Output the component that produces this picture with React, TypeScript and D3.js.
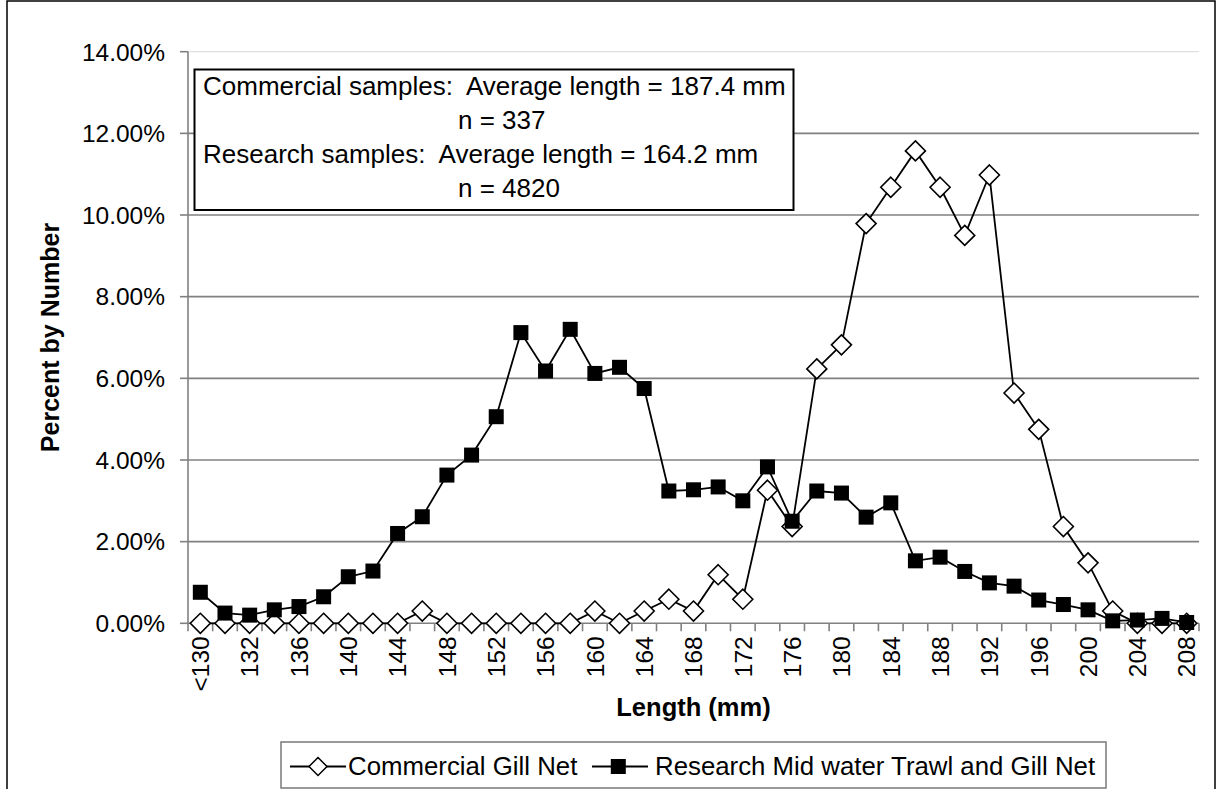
import React from "react";
import * as d3 from "d3";

const categories: string[] = ["<130", "130", "132", "134", "136", "138", "140", "142", "144", "146", "148", "150", "152", "154", "156", "158", "160", "162", "164", "166", "168", "170", "172", "174", "176", "178", "180", "182", "184", "186", "188", "190", "192", "194", "196", "198", "200", "202", "204", "206", "208"];

const commercial: number[] = [0, 0, 0, 0, 0, 0, 0, 0, 0, 0.30, 0, 0, 0, 0, 0, 0, 0.30, 0, 0.30, 0.59, 0.30, 1.19, 0.59, 3.26, 2.37, 6.23, 6.82, 9.79, 10.68, 11.57, 10.68, 9.50, 10.98, 5.64, 4.75, 2.37, 1.48, 0.30, 0, 0, 0];

const research: number[] = [0.76, 0.25, 0.2, 0.33, 0.41, 0.65, 1.14, 1.28, 2.2, 2.61, 3.63, 4.12, 5.06, 7.12, 6.18, 7.2, 6.12, 6.27, 5.75, 3.24, 3.27, 3.34, 3.0, 3.83, 2.5, 3.24, 3.19, 2.6, 2.95, 1.53, 1.62, 1.27, 0.99, 0.91, 0.57, 0.46, 0.33, 0.06, 0.08, 0.12, 0.02];

const yTicks: number[] = [0, 2, 4, 6, 8, 10, 12, 14];
const xLabelCategories: string[] = ["<130", "132", "136", "140", "144", "148", "152", "156", "160", "164", "168", "172", "176", "180", "184", "188", "192", "196", "200", "204", "208"];

const seriesNames: string[] = ["Commercial Gill Net", "Research Mid water Trawl and Gill Net"];
const noteLines: string[] = [
  "Commercial samples:  Average length = 187.4 mm",
  "n = 337",
  "Research samples:  Average length = 164.2 mm",
  "n = 4820",
];

const FONT = "'Liberation Sans', Arial, Helvetica, sans-serif";

export default function App() {
  const W = 1217;
  const H = 789;
  const left = 188, right = 1199, top = 51.7, bottom = 623.3;

  const x = d3.scaleBand<string>().domain(categories).range([left, right]).padding(0);
  const bw = x.bandwidth();
  const cx = (c: string) => (x(c) as number) + bw / 2;
  const y = d3.scaleLinear().domain([0, 14]).range([bottom, top]);

  const line = d3
    .line<number>()
    .x((_, i) => cx(categories[i]))
    .y((d) => y(d));

  const diamond = (px: number, py: number, r = 10) =>
    `M${px},${py - r}L${px + r},${py}L${px},${py + r}L${px - r},${py}Z`;

  const sq = 15;

  return (
    <svg
      width={W}
      height={H}
      style={{ position: "absolute", left: 0, top: 0, background: "#fff", fontFamily: FONT }}
    >
      <rect x={0} y={0} width={W} height={H} fill="#fff" />
      {/* outer chart border */}
      <rect x={7} y={1} width={1208} height={830} fill="none" stroke="#000" strokeWidth={1.5} />

      {/* gridlines */}
      {yTicks.filter((t) => t > 0).map((t) => (
        <line
          key={"g" + t}
          x1={left}
          x2={right}
          y1={y(t)}
          y2={y(t)}
          stroke={t === 14 ? "#d8d8d8" : "#808080"}
          strokeWidth={t === 14 ? 1 : 1.6}
        />
      ))}

      {/* y axis */}
      <line x1={left} x2={left} y1={top} y2={bottom} stroke="#808080" strokeWidth={1.6} />
      {yTicks.map((t) => (
        <g key={"yt" + t}>
          <line x1={left - 8} x2={left} y1={y(t)} y2={y(t)} stroke="#808080" strokeWidth={1.6} />
          <text x={165} y={y(t)} dy="0.36em" textAnchor="end" fontSize={24.5} fill="#000">
            {t.toFixed(2) + "%"}
          </text>
        </g>
      ))}

      {/* x axis */}
      <line x1={left} x2={right} y1={bottom} y2={bottom} stroke="#808080" strokeWidth={1.6} />
      {categories.map((c, i) => (
        <line
          key={"xt" + i}
          x1={x(c) as number}
          x2={x(c) as number}
          y1={bottom}
          y2={bottom + 8}
          stroke="#808080"
          strokeWidth={1.6}
        />
      ))}
      <line x1={right} x2={right} y1={bottom} y2={bottom + 8} stroke="#808080" strokeWidth={1.6} />
      {xLabelCategories.map((c) => (
        <text
          key={"xl" + c}
          transform={`translate(${cx(c)},${bottom + 13}) rotate(-90)`}
          dy="0.36em"
          textAnchor="end"
          fontSize={24.5}
          fill="#000"
        >
          {c}
        </text>
      ))}

      {/* axis titles */}
      <text
        transform={`translate(59,${(top + bottom) / 2}) rotate(-90)`}
        textAnchor="middle"
        fontSize={25}
        fontWeight="bold"
        fill="#000"
      >
        Percent by Number
      </text>
      <text x={(left + right) / 2} y={716} textAnchor="middle" fontSize={25.5} fontWeight="bold" fill="#000">
        Length (mm)
      </text>

      {/* commercial series */}
      <path d={line(commercial) || ""} fill="none" stroke="#000" strokeWidth={1.8} />
      {commercial.map((v, i) => (
        <path
          key={"c" + i}
          d={diamond(cx(categories[i]), y(v))}
          fill="#fff"
          stroke="#000"
          strokeWidth={1.6}
        />
      ))}

      {/* research series */}
      <path d={line(research) || ""} fill="none" stroke="#000" strokeWidth={1.8} />
      {research.map((v, i) => (
        <rect
          key={"r" + i}
          x={cx(categories[i]) - sq / 2}
          y={y(v) - sq / 2}
          width={sq}
          height={sq}
          fill="#000"
        />
      ))}

      {/* note box */}
      <rect x={194.5} y={69.5} width={599} height={140.5} fill="#fff" stroke="#000" strokeWidth={2} />
      <text x={203} y={95} fontSize={26} fill="#000" style={{ whiteSpace: "pre" }}>
        {noteLines[0]}
      </text>
      <text x={458} y={129} fontSize={26} fill="#000" style={{ whiteSpace: "pre" }}>
        {noteLines[1]}
      </text>
      <text x={203} y={163} fontSize={26} fill="#000" style={{ whiteSpace: "pre" }}>
        {noteLines[2]}
      </text>
      <text x={458} y={197} fontSize={26} fill="#000" style={{ whiteSpace: "pre" }}>
        {noteLines[3]}
      </text>

      {/* legend */}
      <rect x={281} y={742} width={825} height={46} fill="#fff" stroke="#808080" strokeWidth={1.6} />
      <line x1={290} x2={346} y1={766.5} y2={766.5} stroke="#000" strokeWidth={1.8} />
      <path d={diamond(318, 766.5, 9)} fill="#fff" stroke="#000" strokeWidth={1.5} />
      <text x={348} y={775} fontSize={25.8} fill="#000">
        {seriesNames[0]}
      </text>
      <line x1={592} x2={648} y1={766.5} y2={766.5} stroke="#000" strokeWidth={1.8} />
      <rect x={618.3 - 7.5} y={766.5 - 7.5} width={15} height={15} fill="#000" />
      <text x={655} y={775} fontSize={25.8} fill="#000">
        {seriesNames[1]}
      </text>
    </svg>
  );
}
